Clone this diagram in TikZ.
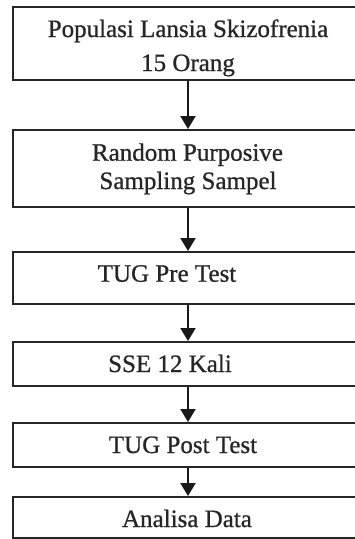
\documentclass[tikz,border=0pt]{standalone}
\usepackage{fontspec}
\newfontfamily\lblfont{Liberation Serif}[FakeBold=0.8]
\usetikzlibrary{arrows.meta}
\begin{document}
\begin{tikzpicture}[x=1pt,y=-1pt,
  box/.style={draw=black!85, line width=2pt, minimum width=350pt, inner sep=0pt, fill=white},
  lbl/.style={anchor=base, inner sep=0pt, text=black!85, font=\lblfont\fontsize{25}{28}\selectfont},
  flow/.style={draw=black!90, line width=2pt, -{Triangle[width=15pt,length=13pt]}}]
\useasboundingbox (0,0) rectangle (355,539);
\clip (0,0) rectangle (355,539);
\node[box, minimum height=73pt] (b1) at (188,43.5) {};
\node[box, minimum height=77pt] (b2) at (188,168.5) {};
\node[box, minimum height=52pt] (b3) at (188,278) {};
\node[box, minimum height=44pt] (b4) at (188,364) {};
\node[box, minimum height=44pt] (b5) at (188,445) {};
\node[box, minimum height=41pt] (b6) at (188,517.5) {};
\node[lbl] (t1a) at (188,37) {Populasi Lansia Skizofrenia};
\node[lbl] (t1b) at (188,71) {15 Orang};
\node[lbl] (t2a) at (187.5,160.7) {Random Purposive};
\node[lbl] (t2b) at (188,189) {Sampling Sampel};
\node[lbl] (t3) at (167,281.7) {TUG Pre Test};
\node[lbl] (t4) at (170,372) {SSE 12 Kali};
\node[lbl] (t5) at (183,453) {TUG Post Test};
\node[lbl] (t6) at (187,527) {Analisa Data};
\draw[flow] (b1.south) -- (b2.north);
\draw[flow] (b2.south) -- (b3.north);
\draw[flow] (b3.south) -- (b4.north);
\draw[flow] (b4.south) -- (b5.north);
\draw[flow] (b5.south) -- (b6.north);
\end{tikzpicture}
\end{document}
